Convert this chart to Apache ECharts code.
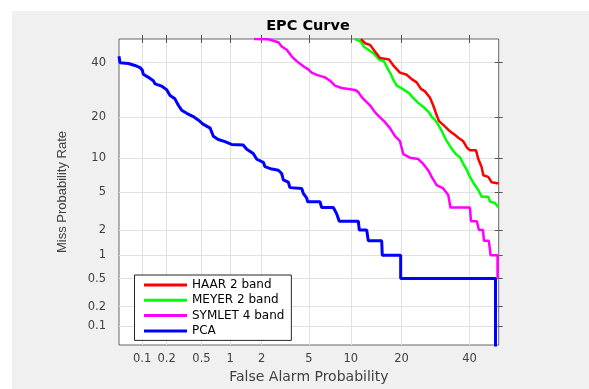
<!DOCTYPE html>
<html>
<head>
<meta charset="utf-8">
<script src="https://cdn.jsdelivr.net/npm/echarts@6/dist/echarts.min.js"></script>
<style>html,body{margin:0;padding:0;background:#fff;}#c{width:589px;height:389px;}</style>
</head>
<body>
<div id="c"></div>
<script>
// Tick labels (percent) used on both probit-scaled axes
const tickValues = [0.1, 0.2, 0.5, 1, 2, 5, 10, 20, 40];
const axisRange = [0.05, 50];
const seriesNames = ['HAAR 2 band', 'MEYER 2 band', 'SYMLET 4 band', 'PCA'];
// [false alarm %, miss %]
const haar = [[11.63,50],[12.33,48.2],[13.23,47.5],[14.18,44.7],[15.18,41.95],[17.09,41.25],[18.2,38.5],[19.61,35.9],[21.27,35.05],[22.54,33.3],[23.86,32.06],[25.03,29.57],[26.15,28.67],[27.58,26.39],[28.54,23.72],[29.55,20.59],[30.24,18.85],[31.55,17.8],[33.64,16.05],[35.24,15.12],[36.31,14.4],[37.94,13.57],[39.17,12.13],[40.17,11.57],[42.2,11.57],[42.98,9.83],[44.14,8.4],[44.69,7.14],[46.4,6.9],[47.57,6.16],[50,6.0]];
const meyer = [[10.65,50],[11.63,48.87],[12.15,46.65],[12.92,45.39],[13.99,43.73],[14.97,41.25],[16.01,40.56],[16.75,37.61],[17.31,35.9],[18.05,33.12],[18.84,30.78],[20.22,29.57],[21.84,28.03],[22.88,26.39],[24.2,24.7],[25.87,23.05],[27.29,21.5],[28.16,20.0],[29.04,19.21],[30.09,17.72],[31.0,16.25],[32.39,13.92],[33.96,12.13],[35.56,10.78],[36.86,10.14],[38.01,8.9],[39.17,7.92],[40.17,6.9],[41.52,5.97],[42.98,5.22],[44.14,4.5],[46.4,4.5],[46.99,4.03],[48.71,3.88],[50,3.5]];
const symlet = [[1.7,50],[2.29,49.9],[2.81,48.6],[3.0,46.8],[3.31,45.4],[3.64,42.6],[4.0,40.6],[4.52,38.5],[4.95,37.2],[5.25,35.9],[5.74,35.0],[6.61,34.0],[7.19,32.7],[7.8,30.8],[8.68,29.9],[10.65,29.2],[11.19,28.4],[11.76,26.6],[12.63,24.9],[13.23,23.8],[14.2,21.5],[15.18,20.0],[16.22,18.55],[17.31,16.9],[18.44,14.8],[19.61,13.6],[20.02,12.1],[20.41,10.8],[22.1,10.1],[24.3,9.83],[25.67,8.96],[27.1,7.88],[28.07,6.9],[29.55,5.81],[31.55,5.4],[33.1,4.68],[33.8,3.5],[40.17,3.5],[40.5,2.5],[42.5,2.5],[43.2,2.0],[44.6,2.0],[44.9,1.5],[46.6,1.5],[47.2,1.0],[49.6,1.0],[49.6,0.5]];
const pca = [[0.05,42.6],[0.0516,39.9],[0.0664,39.6],[0.081,38.8],[0.094,37.9],[0.1006,36.9],[0.1035,35.2],[0.12,34.0],[0.138,32.7],[0.145,31.5],[0.175,30.6],[0.20,29.3],[0.22,27.2],[0.251,26.0],[0.275,23.8],[0.30,22.2],[0.343,21.2],[0.406,20.2],[0.46,19.2],[0.52,18.0],[0.62,16.9],[0.67,14.8],[0.755,14.0],[0.885,13.5],[1.03,12.85],[1.34,12.7],[1.45,11.8],[1.67,10.9],[1.80,9.8],[2.07,9.25],[2.14,8.5],[2.46,8.1],[2.81,7.9],[3.0,7.4],[3.1,6.5],[3.41,6.2],[3.52,5.5],[4.39,5.4],[4.52,4.85],[4.81,4.35],[4.89,4.0],[6.07,4.0],[6.25,3.5],[7.59,3.5],[8.02,3.0],[8.35,2.5],[11.19,2.5],[11.35,2.0],[12.63,2.0],[12.92,1.5],[15.53,1.5],[15.65,1.0],[19.78,1.0],[19.78,0.5],[48.9,0.5],[48.9,0.03]];
const colors = ['#ff0000', '#00ff00', '#ff00ff', '#0000ff'];

function probit(p) {
  const a=[-3.969683028665376e+01,2.209460984245205e+02,-2.759285104469687e+02,1.383577518672690e+02,-3.066479806614716e+01,2.506628277459239e+00];
  const b=[-5.447609879822406e+01,1.615858368580409e+02,-1.556989798598866e+02,6.680131188771972e+01,-1.328068155288572e+01];
  const c=[-7.784894002430293e-03,-3.223964580411365e-01,-2.400758277161838e+00,-2.549732539343734e+00,4.374664141464968e+00,2.938163982698783e+00];
  const d=[7.784695709041462e-03,3.224671290700398e-01,2.445134137142996e+00,3.754408661907416e+00];
  const pl=0.02425, ph=1-pl; let q, r;
  if (p < pl) { q=Math.sqrt(-2*Math.log(p)); return (((((c[0]*q+c[1])*q+c[2])*q+c[3])*q+c[4])*q+c[5])/((((d[0]*q+d[1])*q+d[2])*q+d[3])*q+1); }
  if (p <= ph) { q=p-0.5; r=q*q; return (((((a[0]*r+a[1])*r+a[2])*r+a[3])*r+a[4])*r+a[5])*q/(((((b[0]*r+b[1])*r+b[2])*r+b[3])*r+b[4])*r+1); }
  q=Math.sqrt(-2*Math.log(1-p)); return -(((((c[0]*q+c[1])*q+c[2])*q+c[3])*q+c[4])*q+c[5])/((((d[0]*q+d[1])*q+d[2])*q+d[3])*q+1);
}
const pz = v => probit(v / 100);
const tickZ = tickValues.map(pz);
const zMin = pz(axisRange[0]), zMax = 0;
function fmt(v) {
  for (let i = 0; i < tickZ.length; i++) if (Math.abs(tickZ[i] - v) < 1e-6) return String(tickValues[i]);
  return '';
}
const labelFont = { fontFamily: 'DejaVu Sans', fontSize: 11.5, color: '#404040' };

function mainAxis(isX) {
  return {
    type: 'value', min: zMin, max: zMax,
    position: isX ? 'bottom' : 'left',
    name: isX ? 'False Alarm Probability' : 'Miss Probability Rate',
    nameLocation: 'middle',
    nameGap: isX ? 25 : 50,
    nameTextStyle: isX ? { fontFamily: 'DejaVu Sans', fontSize: 14, color: '#404040' }
                       : { fontFamily: 'Liberation Sans', fontSize: 13, color: '#404040' },
    axisLine: { show: false },
    axisTick: { show: true, inside: true, length: 4, customValues: tickZ, lineStyle: { color: '#555' } },
    axisLabel: Object.assign({ customValues: tickZ, formatter: fmt, margin: isX ? 8 : 13 }, labelFont),
    splitLine: { show: true, lineStyle: { color: '#e1e1e1', width: 1 } }
  };
}
function mirrorAxis(isX) {
  return {
    type: 'value', min: zMin, max: zMax,
    position: isX ? 'top' : 'right',
    axisLine: { show: false },
    axisTick: { show: true, inside: true, length: 4, customValues: tickZ, lineStyle: { color: '#555' } },
    axisLabel: { show: false, customValues: tickZ },
    splitLine: { show: false }
  };
}

const allData = [haar, meyer, symlet, pca];
const chart = echarts.init(document.getElementById('c'), null, { renderer: 'canvas' });
chart.setOption({
  animation: false,
  backgroundColor: '#ffffff',
  graphic: [{ type: 'rect', z: -100, silent: true, shape: { x: 12, y: 11, width: 600, height: 400 }, style: { fill: '#f0f0f0' } }],
  title: {
    text: 'EPC Curve', left: 308, top: 19, padding: 0, textAlign: 'center',
    textStyle: { fontFamily: 'DejaVu Sans', fontWeight: 'bold', fontSize: 14.5, color: '#000' }
  },
  grid: { left: 119, top: 39, right: 90.3, bottom: 37.3, show: true, backgroundColor: '#ffffff', borderColor: '#666', borderWidth: 1 },
  xAxis: [mainAxis(true), mirrorAxis(true)],
  yAxis: [mainAxis(false), mirrorAxis(false)],
  legend: {
    orient: 'vertical', left: 134.5, top: 275,
    padding: [3.5, 7, 3, 9.5], itemGap: 2.3, itemWidth: 43, itemHeight: 3,
    backgroundColor: '#ffffff', borderColor: '#262626', borderWidth: 1, borderRadius: 0,
    icon: 'rect',
    data: seriesNames,
    textStyle: { fontFamily: 'DejaVu Sans', fontSize: 12, color: '#000', lineHeight: 13 }
  },
  series: allData.map((d, i) => ({
    name: seriesNames[i], type: 'line', showSymbol: false, symbol: 'none',
    xAxisIndex: 0, yAxisIndex: 0, clip: true,
    lineStyle: { color: colors[i], width: i === 3 ? 3 : 2.5 },
    itemStyle: { color: colors[i] },
    data: d.map(p => [pz(p[0]), pz(p[1])]),
    z: 2 + (3 - i)
  }))
});
</script>
</body>
</html>
